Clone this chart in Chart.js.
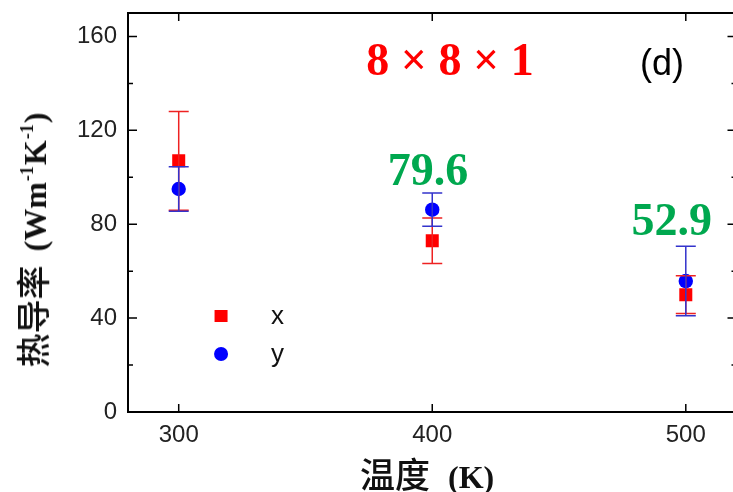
<!DOCTYPE html>
<html>
<head>
<meta charset="utf-8">
<script src="https://cdn.jsdelivr.net/npm/chart.js@4.4.1/dist/chart.umd.min.js"></script>
<style>
  html, body { margin: 0; padding: 0; background: #fff; overflow: hidden; }
  .wrap { position: relative; width: 740px; height: 492px; }
  .y-title {
    position: absolute; left: 33px; top: 240px;
    transform: translate(-50%, -50%) rotate(-90deg);
    white-space: nowrap; color: #111; line-height: 1;
  }
  .x-title {
    position: absolute; left: 360px; top: 455px;
    white-space: nowrap; color: #111; line-height: 1;
  }
  .cjk { font-family: "Noto Sans CJK SC"; font-weight: 500; font-size: 34px; }
  .latin { font-family: "Liberation Serif"; font-weight: bold; font-size: 32px; }
  .latin sup { font-size: 18px; vertical-align: 13px; line-height: 0; margin: 0 1px; }
</style>
</head>
<body>
<div class="wrap">
  <canvas id="chart" width="740" height="492"></canvas>
  <div class="y-title"><span class="cjk">热导率</span><span class="latin" style="margin-left:14px">(Wm<sup>-1</sup>K<sup>-1</sup>)</span></div>
  <div class="x-title"><span class="cjk" style="font-size:35px">温度</span><span class="latin" style="font-size:32px; margin-left:18px">(K)</span></div>
</div>
<script>
// temperature (K)
const temps = [300, 400, 500];
// thermal conductivity along x and y, with error bars
const kx = [107, 73, 50];
const kxErr = [21, 9.7, 8];
const ky = [95, 86.2, 55.8];
const kyErr = [9.5, 7.1, 14.8];

const xTicks = [300, 400, 500];
const yTicks = [0, 40, 80, 120, 160];
const yMinor = [20, 60, 100, 140];

const labels = ["79.6", "52.9"];
const title = "8 × 8 × 1";
const panel = "(d)";

const RED = "#ff0000";
const BLUE = "#0000ff";
const GREEN = "#00a84f";

const errorBars = {
  id: "errorBars",
  afterDatasetsDraw(chart) {
    const ctx = chart.ctx;
    const xs = chart.scales.x;
    const ys = chart.scales.y;
    const sets = [
      { val: kx, err: kxErr, color: "#ee2222" },
      { val: ky, err: kyErr, color: "#3333cc" },
    ];
    ctx.save();
    ctx.lineWidth = 1.5;
    sets.forEach((s) => {
      ctx.strokeStyle = s.color;
      temps.forEach((t, i) => {
        const px = xs.getPixelForValue(t);
        const top = ys.getPixelForValue(s.val[i] + s.err[i]);
        const bot = ys.getPixelForValue(s.val[i] - s.err[i]);
        ctx.beginPath();
        ctx.moveTo(px, top);
        ctx.lineTo(px, bot);
        ctx.moveTo(px - 10, top);
        ctx.lineTo(px + 10, top);
        ctx.moveTo(px - 10, bot);
        ctx.lineTo(px + 10, bot);
        ctx.stroke();
      });
    });
    ctx.restore();
  },
  afterDraw(chart) {
    const ctx = chart.ctx;
    const a = chart.chartArea;
    const xs = chart.scales.x;
    const ys = chart.scales.y;
    ctx.save();
    // frame
    ctx.strokeStyle = "#000";
    ctx.lineWidth = 2;
    ctx.strokeRect(a.left, a.top, a.right - a.left, a.bottom - a.top);
    // inward ticks
    ctx.lineWidth = 1.5;
    ctx.beginPath();
    xTicks.forEach((v) => {
      const px = xs.getPixelForValue(v);
      ctx.moveTo(px, a.bottom);
      ctx.lineTo(px, a.bottom - 8);
      ctx.moveTo(px, a.top);
      ctx.lineTo(px, a.top + 8);
    });
    yTicks.forEach((v) => {
      const py = ys.getPixelForValue(v);
      ctx.moveTo(a.left, py);
      ctx.lineTo(a.left + 9, py);
      ctx.moveTo(a.right, py);
      ctx.lineTo(a.right - 9, py);
    });
    yMinor.forEach((v) => {
      const py = ys.getPixelForValue(v);
      ctx.moveTo(a.left, py);
      ctx.lineTo(a.left + 5, py);
      ctx.moveTo(a.right, py);
      ctx.lineTo(a.right - 5, py);
    });
    ctx.stroke();

    // annotations
    ctx.textAlign = "center";
    ctx.textBaseline = "alphabetic";
    ctx.font = "bold 46px 'Liberation Serif'";
    ctx.fillStyle = GREEN;
    ctx.fillText(labels[0], xs.getPixelForValue(398.3), ys.getPixelForValue(96.6));
    ctx.fillText(labels[1], xs.getPixelForValue(494.5), ys.getPixelForValue(75.3));
    ctx.fillStyle = RED;
    ctx.fillText(title, xs.getPixelForValue(407), ys.getPixelForValue(143.4));
    ctx.fillStyle = "#000";
    ctx.font = "36px 'Liberation Sans'";
    ctx.textBaseline = "middle";
    ctx.fillText(panel, xs.getPixelForValue(490.6), ys.getPixelForValue(147.7));

    // legend
    const lx = xs.getPixelForValue(316.7);
    const tx = xs.getPixelForValue(339);
    const r1 = ys.getPixelForValue(40.9);
    const r2 = ys.getPixelForValue(24.7);
    ctx.fillStyle = RED;
    ctx.fillRect(lx - 6.5, r1 - 6, 13, 12);
    ctx.fillStyle = BLUE;
    ctx.beginPath();
    ctx.arc(lx, r2, 7, 0, Math.PI * 2);
    ctx.fill();
    ctx.fillStyle = "#111";
    ctx.font = "26px 'Liberation Sans'";
    ctx.textAlign = "center";
    ctx.fillText("x", tx, r1 + 1);
    ctx.fillText("y", tx, r2 + 1);
    ctx.restore();
  },
};

new Chart(document.getElementById("chart"), {
  type: "scatter",
  data: {
    datasets: [
      {
        label: "x",
        data: temps.map((t, i) => ({ x: t, y: kx[i] })),
        pointStyle: "rect",
        pointRadius: 9.2,
        backgroundColor: RED,
        borderColor: RED,
        borderWidth: 0,
      },
      {
        label: "y",
        data: temps.map((t, i) => ({ x: t, y: ky[i] })),
        pointStyle: "circle",
        pointRadius: 7.2,
        backgroundColor: BLUE,
        borderColor: BLUE,
        borderWidth: 0,
      },
    ],
  },
  options: {
    responsive: false,
    animation: false,
    devicePixelRatio: 1,
    layout: {
      autoPadding: false,
      padding: { top: 13, right: 3.5, left: 0, bottom: 0 },
    },
    plugins: {
      legend: { display: false },
      tooltip: { enabled: false },
    },
    scales: {
      x: {
        type: "linear",
        min: 280,
        max: 520,
        afterBuildTicks(scale) {
          scale.ticks = xTicks.map((v) => ({ value: v }));
        },
        afterFit(scale) {
          scale.height = 80;
          scale.paddingLeft = 0;
          scale.paddingRight = 0;
        },
        grid: { display: false, drawTicks: false },
        border: { display: false },
        ticks: {
          padding: 9,
          color: "#222",
          font: { family: "'Liberation Sans'", size: 24 },
        },
      },
      y: {
        min: 0,
        max: 170,
        afterBuildTicks(scale) {
          scale.ticks = yTicks.map((v) => ({ value: v }));
        },
        afterFit(scale) {
          scale.width = 128;
          scale.paddingTop = 0;
          scale.paddingBottom = 0;
        },
        grid: { display: false, drawTicks: false },
        border: { display: false },
        ticks: {
          padding: 11,
          color: "#222",
          font: { family: "'Liberation Sans'", size: 24 },
        },
      },
    },
  },
  plugins: [errorBars],
});
</script>
</body>
</html>
